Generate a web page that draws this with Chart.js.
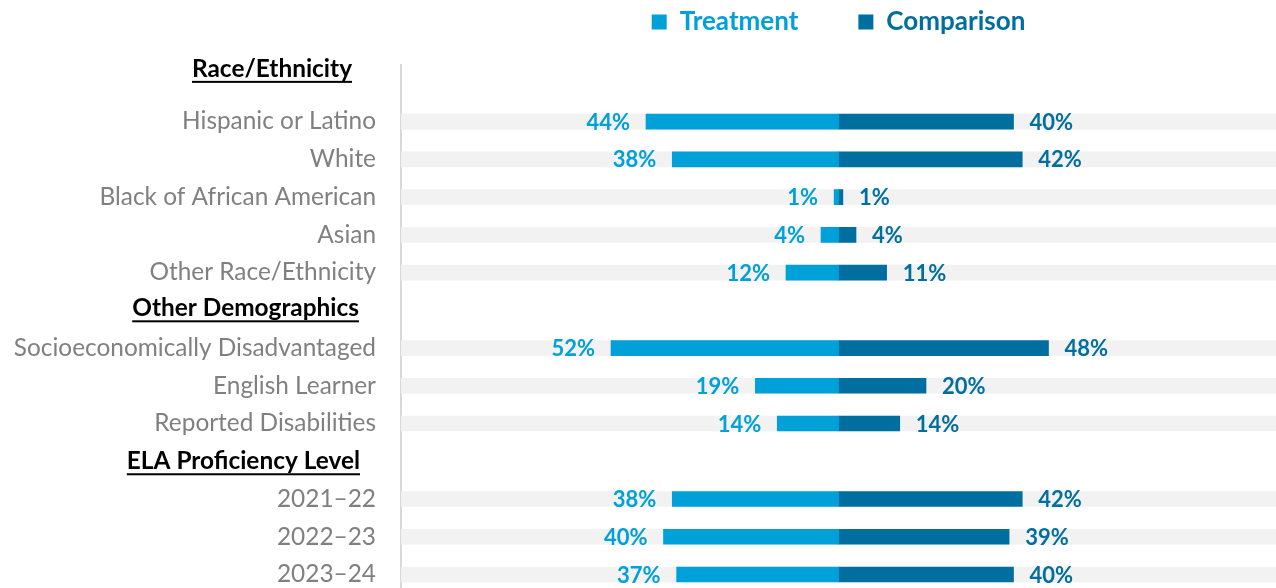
<!DOCTYPE html>
<html>
<head>
<meta charset="utf-8">
<script src="https://cdn.jsdelivr.net/npm/chart.js@4.4.0/dist/chart.umd.min.js"></script>
<style>
  html, body { margin: 0; padding: 0; background: #fff; overflow: hidden; }
  #wrap { position: relative; width: 1276px; height: 633px; }
</style>
</head>
<body>
<div id="wrap"><canvas id="chart"></canvas></div>
<script>
/* Student characteristics, treatment vs comparison (butterfly bars) */

const categories = [
  'Race/Ethnicity',
  'Hispanic or Latino', 'White', 'Black of African American', 'Asian', 'Other Race/Ethnicity',
  'Other Demographics',
  'Socioeconomically Disadvantaged', 'English Learner', 'Reported Disabilities',
  'ELA Proficiency Level',
  '2021–22', '2022–23', '2023–24'
];
const headers = ['Race/Ethnicity', 'Other Demographics', 'ELA Proficiency Level'];
const treatment  = [null, 44, 38, 1, 4, 12, null, 52, 19, 14, null, 38, 40, 37];
const comparison = [null, 40, 42, 1, 4, 11, null, 48, 20, 14, null, 42, 39, 40];
const bandRange = [-100, 100];

const TREAT = '#00a0d8', COMP = '#006fa0', BAND = '#f2f2f2';
const FONT = 'Lato, "Open Sans", sans-serif';

const isHeader = i => headers.includes(categories[i]);

// percent labels at the outer end of each bar
const valueLabels = {
  id: 'valueLabels',
  afterDatasetsDraw(chart) {
    const { ctx, scales: { x, y } } = chart;
    ctx.save();
    ctx.font = 'bold 22px ' + FONT;
    ctx.textBaseline = 'middle';
    categories.forEach((c, i) => {
      if (treatment[i] == null) return;
      const yy = y.getPixelForValue(i) + 1;
      ctx.fillStyle = TREAT;
      ctx.textAlign = 'right';
      ctx.fillText(treatment[i] + '%', x.getPixelForValue(-treatment[i]) - 16, yy);
      ctx.fillStyle = COMP;
      ctx.textAlign = 'left';
      ctx.fillText(comparison[i] + '%', x.getPixelForValue(comparison[i]) + 16, yy);
    });
    ctx.restore();
  }
};

// bold underlined group titles in the label column
const sectionHeaders = {
  id: 'sectionHeaders',
  afterDraw(chart) {
    const { ctx, scales: { y } } = chart;
    const dy = [-15, -2, 0], dx = [-7, 0, 1];
    ctx.save();
    ctx.font = 'bold 24.4px ' + FONT;
    ctx.fillStyle = '#000';
    ctx.textAlign = 'right';
    ctx.textBaseline = 'middle';
    headers.forEach((h, k) => {
      const yy = y.getPixelForValue(categories.indexOf(h)) + dy[k];
      const right = 359 + dx[k];
      ctx.fillText(h, right, yy);
      const w = ctx.measureText(h).width;
      ctx.fillRect(right - w, yy + 12, w, 2);
    });
    ctx.restore();
  }
};

new Chart(document.getElementById('chart'), {
  type: 'bar',
  data: {
    labels: categories,
    datasets: [
      { label: 'Treatment', data: treatment.map(v => v == null ? null : [-v, 0]),
        backgroundColor: TREAT, barThickness: 15, grouped: false, order: 1 },
      { label: 'Comparison', data: comparison.map(v => v == null ? null : [0, v]),
        backgroundColor: COMP, barThickness: 15, grouped: false, order: 1 },
      { label: 'band', data: treatment.map(v => v == null ? null : bandRange),
        backgroundColor: BAND, barThickness: 15, grouped: false, order: 2 }
    ]
  },
  options: {
    indexAxis: 'y',
    responsive: true,
    maintainAspectRatio: false,
    animation: false,
    layout: { padding: { top: -51, left: 0, right: 0, bottom: 0 } },
    plugins: {
      tooltip: { enabled: false },
      legend: {
        position: 'top',
        fullSize: false,
        labels: {
          boxWidth: 15, boxHeight: 15, padding: 60,
          font: { family: FONT, size: 26, weight: 'bold' },
          generateLabels(chart) {
            return Chart.defaults.plugins.legend.labels.generateLabels(chart)
              .filter(it => it.datasetIndex < 2)
              .map(it => ({ ...it, fontColor: it.fillStyle, lineWidth: 0 }));
          }
        }
      }
    },
    scales: {
      x: {
        position: 'top', min: -100, max: 100,
        grid: { display: false, drawTicks: false },
        border: { display: false },
        ticks: { display: false },
        afterFit(s) { s.height = 20; }
      },
      y: {
        grid: { display: false, drawTicks: false, tickLength: 0 },
        border: { display: true, color: '#d9d9d9', width: 2 },
        ticks: {
          padding: 25, autoSkip: false, color: '#808080',
          font: { family: FONT, size: 24.4 },
          callback(v, i) { return isHeader(i) ? '' : categories[i]; }
        },
        afterFit(s) { s.width = 401; }
      }
    }
  },
  plugins: [valueLabels, sectionHeaders]
});
</script>
</body>
</html>
